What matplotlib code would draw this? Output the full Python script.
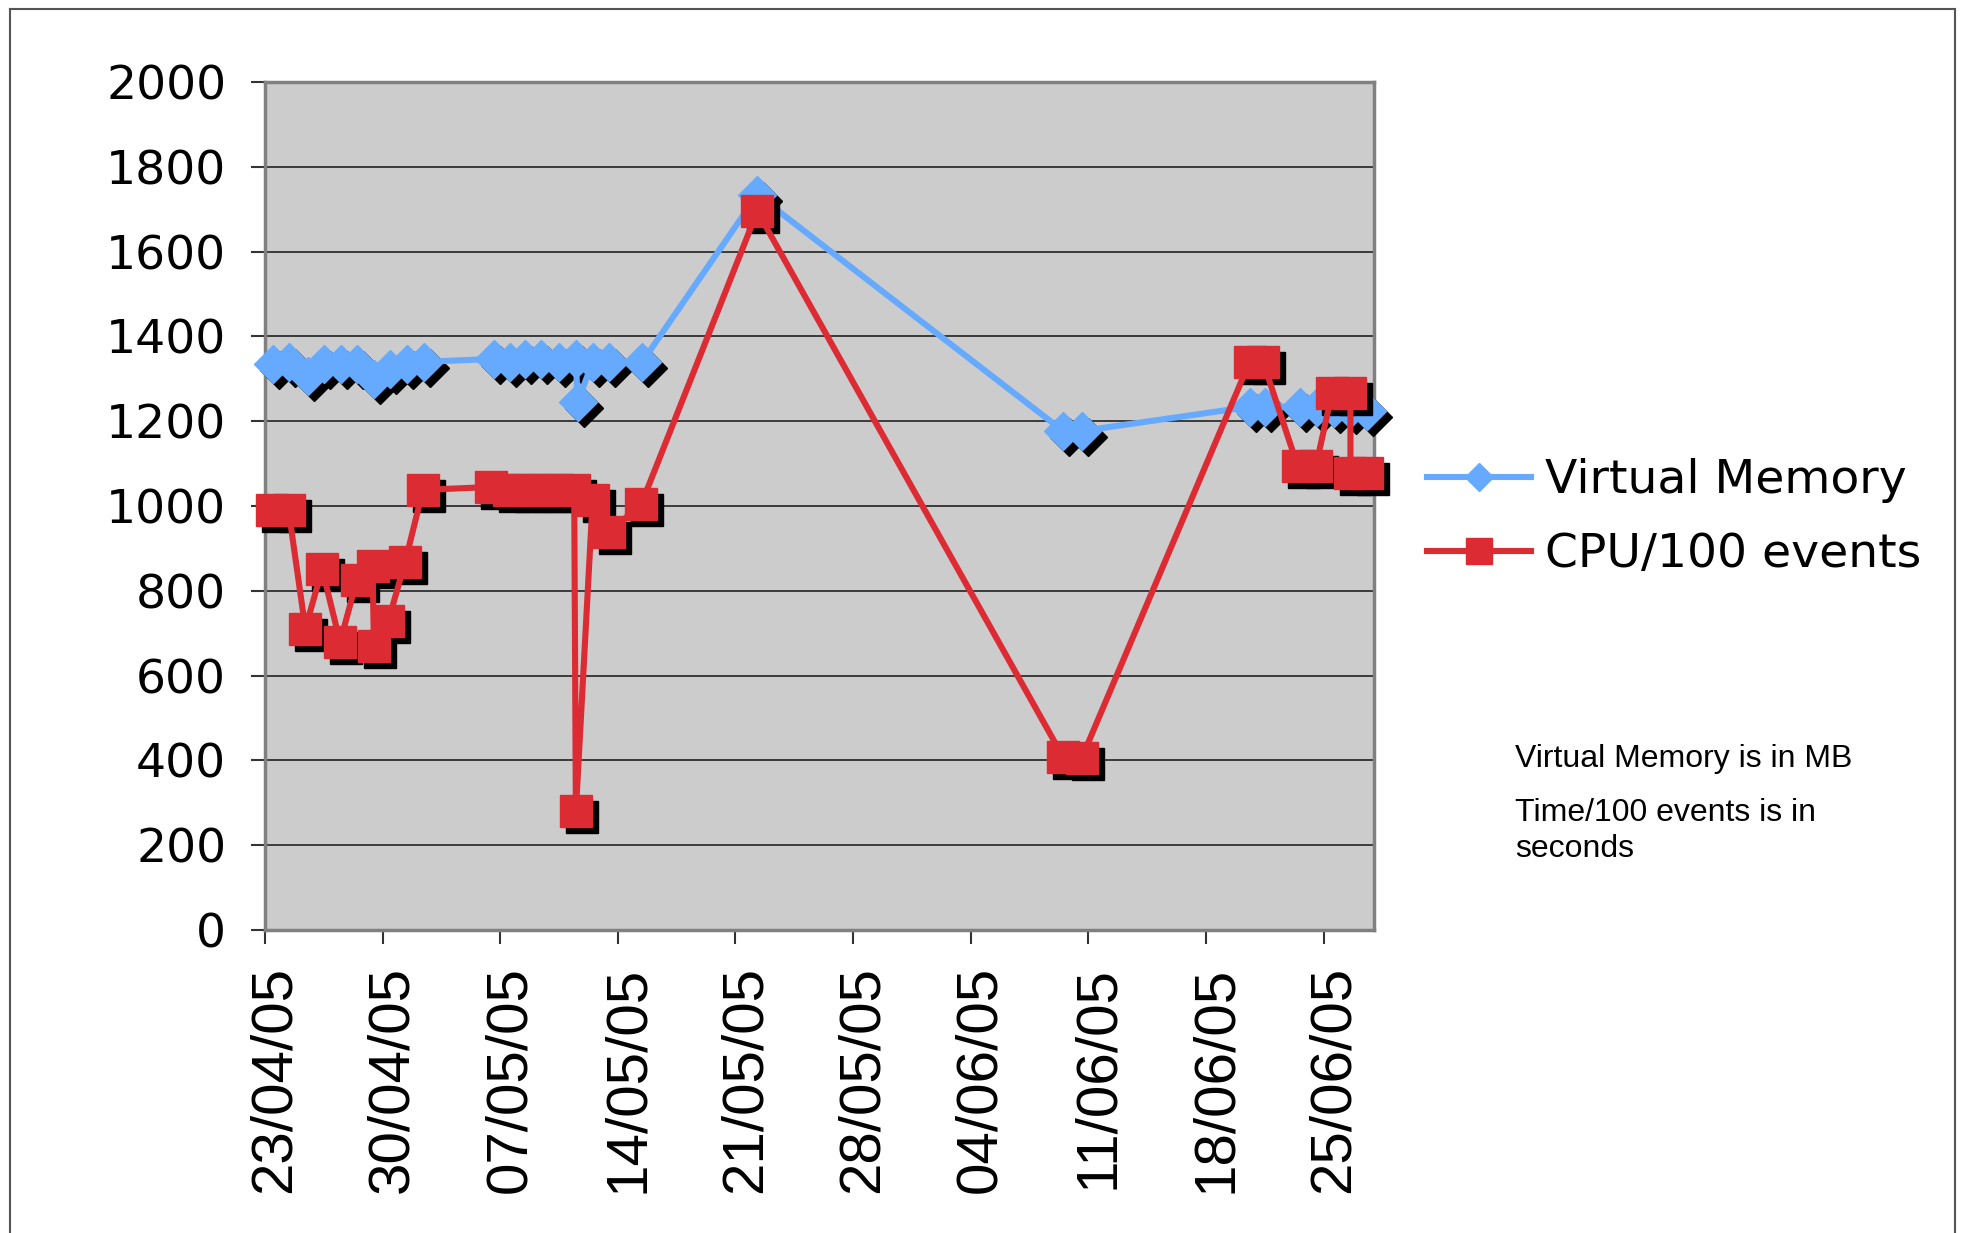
import matplotlib
matplotlib.use("Agg")
import matplotlib.pyplot as plt
import matplotlib.transforms as mtransforms
from matplotlib.lines import Line2D

# days after 23/04/05
vm_days = [0.5, 1.45, 2.58, 3.52, 4.53, 5.46, 6.46, 7.41, 8.44, 9.48,
           13.6, 14.6, 15.45, 16.45, 17.5, 18.5, 18.6, 19.5, 20.5, 22.45,
           29.3, 47.5, 48.6, 58.6, 59.5, 61.6, 62.6, 63.6, 64.6, 65.6]
vm_vals = [1334, 1340, 1307, 1334, 1334, 1334, 1300, 1324, 1334, 1340,
           1347, 1340, 1347, 1347, 1340, 1347, 1245, 1340, 1340, 1340,
           1734, 1177, 1177, 1234, 1234, 1234, 1234, 1230, 1228, 1225]

cpu_days = [0.4, 1.4, 2.4, 3.4, 4.47, 5.46, 6.4, 6.48, 7.33, 8.34, 9.4,
            13.45, 14.5, 15.5, 16.5, 17.4, 18.4, 18.5, 19.5, 20.5, 22.4,
            29.3, 47.5, 48.6, 58.6, 59.4, 61.45, 62.55, 63.5, 64.6, 64.6, 65.6]
cpu_vals = [991, 991, 711, 851, 679, 825, 858, 671, 728, 868, 1038,
            1045, 1038, 1038, 1038, 1038, 1038, 280, 1014, 939, 1005,
            1695, 408, 405, 1340, 1340, 1095, 1095, 1266, 1266, 1079, 1079]

tick_days = [0, 7, 14, 21, 28, 35, 42, 49, 56, 63]
tick_labels = ["23/04/05", "30/04/05", "07/05/05", "14/05/05", "21/05/05",
               "28/05/05", "04/06/05", "11/06/05", "18/06/05", "25/06/05"]
y_ticks = [0, 200, 400, 600, 800, 1000, 1200, 1400, 1600, 1800, 2000]

blue = "#66aaff"
red = "#dd2b33"

fig = plt.figure(figsize=(19.69, 12.33), dpi=100)
ax = fig.add_axes([0.1346, 0.2457, 0.5632, 0.6878])
ax.set_facecolor("#cccccc")

shadow = mtransforms.offset_copy(ax.transData, fig=fig, x=6, y=-6, units="dots")

ax.plot(vm_days, vm_vals, ls="none", marker="D", markersize=19, color="black",
        transform=shadow, clip_on=False, zorder=3)
ax.plot(vm_days, vm_vals, color=blue, lw=4.4, marker="D", markersize=19,
        clip_on=False, zorder=4)
ax.plot(cpu_days, cpu_vals, ls="none", marker="s", markersize=23, color="black",
        transform=shadow, clip_on=False, zorder=5)
ax.plot(cpu_days, cpu_vals, color=red, lw=4.4, marker="s", markersize=23,
        clip_on=False, zorder=6)

ax.set_xlim(0, 66)
ax.set_ylim(0, 2000)
ax.set_yticks(y_ticks)
ax.set_yticklabels([str(v) for v in y_ticks], fontsize=34, family="DejaVu Sans")
ax.set_xticks(tick_days)
ax.set_xticklabels(tick_labels, rotation=90, fontsize=42, family="Liberation Sans")
ax.tick_params(axis="y", length=10, width=1.5, pad=18, color="#333333")
ax.tick_params(axis="x", length=10, width=1.5, pad=16, color="#333333")
shift = mtransforms.ScaledTranslation(0.1, 0, fig.dpi_scale_trans)
for lab in ax.get_xticklabels():
    lab.set_transform(lab.get_transform() + shift)

ax.grid(axis="y", color="#222222", lw=1.2)
ax.set_axisbelow(True)
for sp in ax.spines.values():
    sp.set_color("#808080")
    sp.set_linewidth(2.5)

handles = [Line2D([], [], color=blue, lw=4.4, marker="D", markersize=14),
           Line2D([], [], color=red, lw=4.4, marker="s", markersize=19)]
fig.legend(handles, ["Virtual Memory", "CPU/100 events"], loc="center left",
           bbox_to_anchor=(0.7247, 0.580), frameon=False,
           prop={"family": "DejaVu Sans", "size": 34}, handlelength=2.2,
           handletextpad=0.3, borderpad=0, borderaxespad=0, labelspacing=0.62)

note = {"family": "Liberation Sans", "size": 23}
fig.text(0.7694, 0.378, "Virtual Memory is in MB", va="baseline", fontdict=note)
fig.text(0.7694, 0.334, "Time/100 events is in", va="baseline", fontdict=note)
fig.text(0.7694, 0.305, "seconds", va="baseline", fontdict=note)

# outer frame of the original chart object
for xs, ys in [([0.005, 0.005], [0.0, 0.993]), ([0.005, 0.993], [0.993, 0.993]),
               ([0.993, 0.993], [0.993, 0.0])]:
    fig.add_artist(Line2D(xs, ys, color="#555555", lw=1.5, transform=fig.transFigure))

fig.savefig("out.png", dpi=100)
